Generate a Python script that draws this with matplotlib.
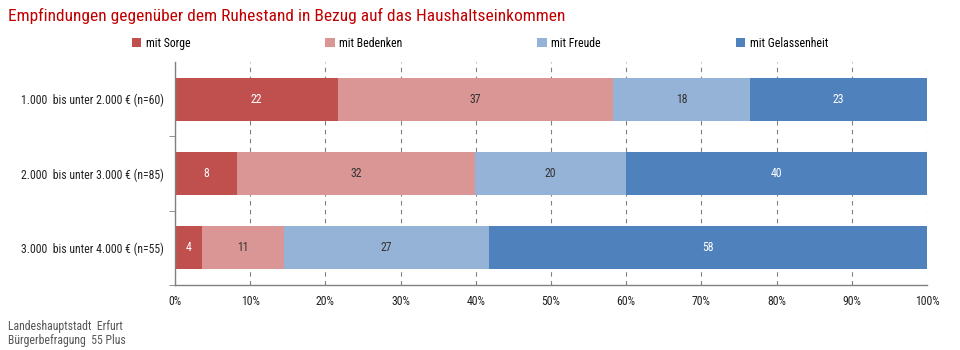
import matplotlib
matplotlib.use('Agg')
import matplotlib.pyplot as plt
import numpy as np

plt.rcParams['font.family'] = ['Roboto Condensed', 'Asap Condensed', 'DejaVu Sans']

# Daten (Anteile in %, Beschriftung gerundet)
categories = ['1.000  bis unter 2.000 € (n=60)',
              '2.000  bis unter 3.000 € (n=85)',
              '3.000  bis unter 4.000 € (n=55)']
series = ['mit Sorge', 'mit Bedenken', 'mit Freude', 'mit Gelassenheit']
sorge = [21.7, 8.2, 3.6]
bedenken = [36.5, 31.7, 10.9]
freude = [18.3, 20.1, 27.3]
gelassenheit = [23.5, 40.0, 58.2]
labels_sorge = [22, 8, 4]
labels_bedenken = [37, 32, 11]
labels_freude = [18, 20, 27]
labels_gelassenheit = [23, 40, 58]

colors = ['#C0504D', '#D99694', '#95B3D7', '#4F81BD']
text_colors = ['white', '#333333', '#333333', 'white']

fig = plt.figure(figsize=(9.6, 3.5), dpi=100)
ax = fig.add_axes([0.1823, 0.186, 0.7833, 0.637])

y = np.arange(len(categories))
left = np.zeros(len(categories))
values = [sorge, bedenken, freude, gelassenheit]
labels = [labels_sorge, labels_bedenken, labels_freude, labels_gelassenheit]
for vals, labs, name, col, tcol in zip(values, labels, series, colors, text_colors):
    vals = np.array(vals)
    ax.barh(y, vals, left=left, height=0.58, color=col, label=name, zorder=2)
    for yi, l, v, lab in zip(y, left, vals, labs):
        ax.text(l + v / 2, yi, str(lab), ha='center', va='center', color=tcol, fontsize=8.5)
    left += vals

ax.set_xlim(0, 100)
ax.set_ylim(2.5, -0.5)
ax.set_xticks(np.arange(0, 101, 10))
ax.set_xticklabels(['%d%%' % v for v in range(0, 101, 10)], fontsize=8.5, color='#222222')
ax.tick_params(axis='x', length=0, pad=7)
ax.set_yticks(y)
ax.set_yticklabels(categories, fontsize=8.5, color='#222222')
ax.tick_params(axis='y', which='major', length=0, pad=8)
ax.set_yticks([0.5, 1.5, 2.5], minor=True)
ax.tick_params(axis='y', which='minor', length=4, color='#808080', direction='out')
ax.grid(axis='x', color='#808080', linestyle=(0, (4, 4)), linewidth=0.8, zorder=0)
for s in ['top', 'right']:
    ax.spines[s].set_visible(False)
for s in ['left', 'bottom']:
    ax.spines[s].set_color('#808080')
    ax.spines[s].set_linewidth(1.0)

fig.text(0.008, 0.954, 'Empfindungen gegenüber dem Ruhestand in Bezug auf das Haushaltseinkommen',
         color='#C00000', fontsize=12.5, ha='left', va='center')

ax.legend(loc='center', bbox_to_anchor=(0.5, 0.877), bbox_transform=fig.transFigure,
          ncol=4, frameon=False, fontsize=8.5, handlelength=0.8, handleheight=0.8,
          handletextpad=0.4, columnspacing=11.4)

fig.text(0.008, 0.047, 'Landeshauptstadt  Erfurt\nBürgerbefragung  55 Plus',
         color='#555555', fontsize=8.5, ha='left', va='center', linespacing=1.1)

fig.savefig('out.png', dpi=100)
